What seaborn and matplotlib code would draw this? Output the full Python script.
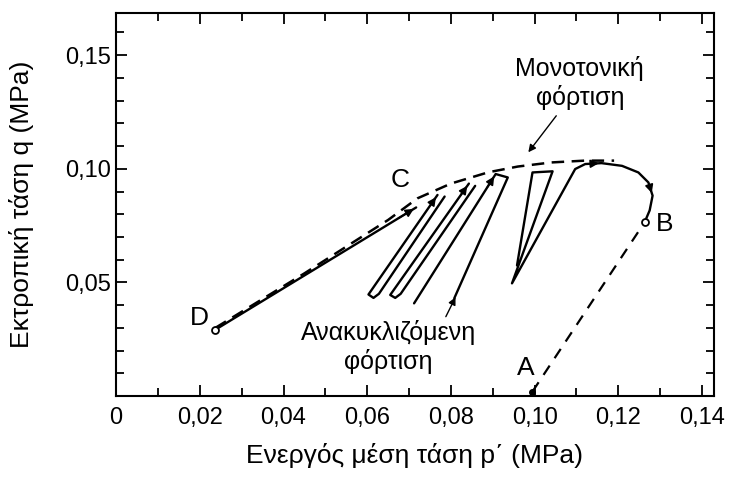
import matplotlib
matplotlib.use('Agg')
import matplotlib.pyplot as plt
import seaborn as sns
from matplotlib.ticker import MultipleLocator, FixedLocator

# τιμές διαβασμένες από το διάγραμμα (p', q σε MPa)
ab_p = [0.0995, 0.1263]
ab_q = [0.002, 0.0765]

# μονοτονική φόρτιση από B, κορυφή και αποφόρτιση
mono_p = [0.1263, 0.1275, 0.1282, 0.1272, 0.1248, 0.1209, 0.1160, 0.1121, 0.1097,
          0.0946, 0.1043, 0.0995, 0.0958]
mono_q = [0.0765, 0.0817, 0.0882, 0.0940, 0.0984, 0.1013, 0.1025, 0.1021, 0.0999,
          0.0496, 0.0989, 0.0984, 0.0575]

# βρόχοι ανακυκλιζόμενης φόρτισης
loop3_p = [0.0712, 0.0907, 0.0936, 0.0808]
loop3_q = [0.0408, 0.0977, 0.0962, 0.0430]
loop2_p = [0.0858, 0.0680, 0.0667, 0.0655, 0.0843]
loop2_q = [0.0925, 0.0450, 0.0432, 0.0445, 0.0935]
loop1_p = [0.0785, 0.0628, 0.0615, 0.0603, 0.0768]
loop1_q = [0.0878, 0.0450, 0.0432, 0.0447, 0.0885]

# D -> C
dc_p = [0.0237, 0.0717]
dc_q = [0.0292, 0.0830]

# περιβάλλουσα μονοτονικής (διακεκομμένη)
env_p = [0.0237, 0.045, 0.065, 0.072, 0.080, 0.089, 0.096, 0.104, 0.112, 0.119]
env_q = [0.0300, 0.0540, 0.0775, 0.0870, 0.0935, 0.0985, 0.1010, 0.1028, 0.1036, 0.1036]

xticks = [0, 0.02, 0.04, 0.06, 0.08, 0.10, 0.12, 0.14]
xticklabels = ['0', '0,02', '0,04', '0,06', '0,08', '0,10', '0,12', '0,14']
yticks = [0.05, 0.10, 0.15]
yticklabels = ['0,05', '0,10', '0,15']

sns.set_style('ticks')
plt.rcParams['font.family'] = ['Liberation Sans', 'DejaVu Sans']
plt.rcParams['text.color'] = 'black'
plt.rcParams['axes.labelcolor'] = 'black'
plt.rcParams['xtick.color'] = 'black'
plt.rcParams['ytick.color'] = 'black'

fig = plt.figure(figsize=(7.35, 4.86), dpi=100)
ax = fig.add_axes([0.158, 0.185, 0.813, 0.788])

solid = dict(color='black', lw=1.7, sort=False, estimator=None, ax=ax)
for p, q in [(mono_p, mono_q), (loop3_p, loop3_q), (loop2_p, loop2_q),
             (loop1_p, loop1_q), (dc_p, dc_q)]:
    sns.lineplot(x=p, y=q, **solid)

sns.lineplot(x=ab_p, y=ab_q, color='black', lw=1.6, sort=False, estimator=None,
             ax=ax, linestyle=(0, (5, 4)))
sns.lineplot(x=env_p, y=env_q, color='black', lw=1.8, sort=False, estimator=None,
             ax=ax, linestyle=(0, (5, 3)))

ax.plot(ab_p[0], ab_q[0], 'o', color='black', ms=4)
ax.plot(ab_p[1], ab_q[1], 'o', mfc='white', mec='black', ms=5, mew=1.3)
ax.plot(dc_p[0], dc_q[0], 'o', mfc='white', mec='black', ms=5, mew=1.3)


def head(p, q, i, j, frac=0.12):
    # βέλος στο σημείο j, με κατεύθυνση από i προς j
    x0 = p[j] - (p[j] - p[i]) * frac
    y0 = q[j] - (q[j] - q[i]) * frac
    ax.annotate('', xy=(p[j], q[j]), xytext=(x0, y0),
                arrowprops=dict(arrowstyle='-|>', color='black', lw=1.2,
                                mutation_scale=12))


head(dc_p, dc_q, 0, 1, 0.1)
head(loop1_p, loop1_q, 3, 4)
head(loop2_p, loop2_q, 3, 4)
head(loop3_p, loop3_q, 0, 1)
head(mono_p, mono_q, 3, 2, 0.6)
head(mono_p, mono_q, 7, 6, 0.6)

lab = dict(fontsize=19, ha='center', va='center')
ax.text(0.0678, 0.0950, 'C', **lab)
ax.text(0.0200, 0.0342, 'D', **lab)
ax.text(0.1310, 0.0757, 'B', **lab)
ax.text(0.0980, 0.0124, 'A', **lab)

ax.annotate('Μονοτονική\nφόρτιση', xy=(0.0981, 0.1063), xytext=(0.1108, 0.1495),
            fontsize=18, ha='center', va='top', linespacing=1.2,
            arrowprops=dict(arrowstyle='-|>', color='black', lw=1.0,
                            mutation_scale=11, shrinkA=2, relpos=(0.35, 0.0)))
ax.annotate('Ανακυκλιζόμενη\nφόρτιση', xy=(0.0814, 0.0446), xytext=(0.0650, 0.0335),
            fontsize=18, ha='center', va='top', linespacing=1.2,
            arrowprops=dict(arrowstyle='-|>', color='black', lw=1.0,
                            mutation_scale=11, shrinkA=0, relpos=(0.82, 1.0)))

ax.set_xlim(0, 0.1428)
ax.set_ylim(0, 0.1685)
ax.xaxis.set_major_locator(FixedLocator(xticks))
ax.set_xticklabels(xticklabels)
ax.xaxis.set_minor_locator(MultipleLocator(0.01))
ax.yaxis.set_major_locator(FixedLocator(yticks))
ax.set_yticklabels(yticklabels)
ax.yaxis.set_minor_locator(MultipleLocator(0.01))
ax.tick_params(which='both', direction='in', top=True, right=True, labelsize=17,
               width=1.3, color='black', labelcolor='black')
ax.tick_params(which='major', length=8)
ax.tick_params(which='minor', length=6)
ax.tick_params(axis='x', which='major', pad=8)
ax.tick_params(axis='y', which='major', pad=4)
for s in ax.spines.values():
    s.set_linewidth(1.5)
    s.set_color('black')

ax.set_xlabel('Ενεργός μέση τάση p΄ (MPa)', fontsize=19, labelpad=10)
ax.set_ylabel('Εκτροπική τάση q (MPa)', fontsize=19, labelpad=22)

fig.savefig('out.png', dpi=100)
